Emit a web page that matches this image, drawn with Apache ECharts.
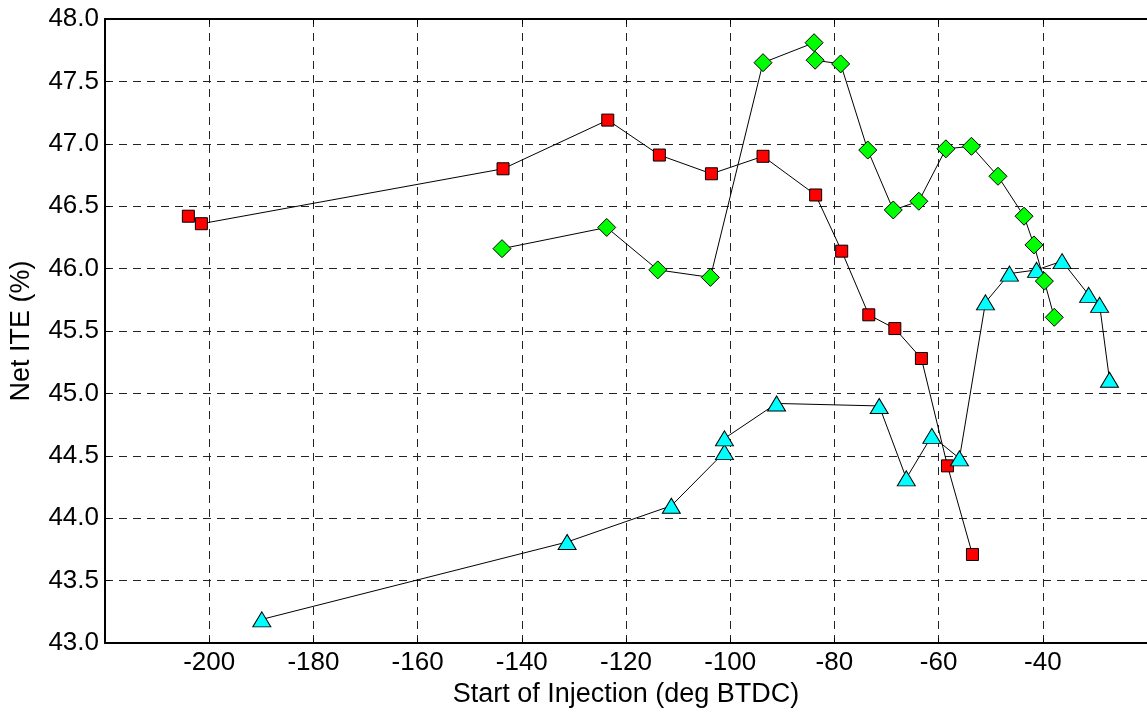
<!DOCTYPE html>
<html>
<head>
<meta charset="utf-8">
<script src="https://cdn.jsdelivr.net/npm/echarts@6/dist/echarts.min.js"></script>
<style>
  html, body { margin: 0; padding: 0; background: #fff; }
  #chart { width: 1147px; height: 713px; }
</style>
</head>
<body>
<div id="chart"></div>
<script>
// 数据：点
let redX = [-204, -201.5, -143.6, -123.5, -113.6, -103.6, -93.7, -83.6, -78.6, -73.4, -68.4, -63.3, -58.3, -53.5];
let redY = [46.42, 46.36, 46.80, 47.19, 46.91, 46.76, 46.90, 46.59, 46.14, 45.63, 45.52, 45.28, 44.42, 43.71];

let greenX = [-143.8, -123.7, -113.9, -103.8, -93.7, -83.9, -83.7, -78.8, -73.6, -68.7, -63.8, -58.6, -53.7, -48.6, -43.6, -41.7, -39.7, -37.8];
let greenY = [46.16, 46.33, 45.99, 45.93, 47.65, 47.81, 47.67, 47.64, 46.95, 46.47, 46.54, 46.96, 46.98, 46.74, 46.42, 46.19, 45.90, 45.61];

let cyanX = [-189.9, -131.3, -111.3, -101.1, -101.1, -91.1, -71.4, -66.2, -61.3, -56.0, -51.0, -46.4, -41.2, -36.3, -31.2, -29.1, -27.2];
let cyanY = [43.19, 43.81, 44.10, 44.53, 44.64, 44.92, 44.90, 44.32, 44.66, 44.48, 45.73, 45.96, 45.99, 46.06, 45.79, 45.71, 45.11];

let xTicks = [-200, -180, -160, -140, -120, -100, -80, -60, -40];

function zip(xs, ys) {
    let out = [];
    for (let i = 0; i < xs.length; i++) {
        out.push([xs[i], ys[i]]);
    }
    return out;
}

let myChart = echarts.init(document.getElementById('chart'), null, {renderer: 'canvas'});

let font = "'Liberation Sans', Arial, sans-serif";
let gridLine = {show: true, lineStyle: {color: '#222', width: 1, type: [8, 6]}};

function makeSeries(name, xs, ys, symbol, size, fill) {
    return {
        name: name,
        type: 'line',
        data: zip(xs, ys),
        symbol: symbol,
        symbolSize: size,
        showAllSymbol: true,
        lineStyle: {color: '#000', width: 1},
        itemStyle: {color: fill, borderColor: '#000', borderWidth: 1},
        emphasis: {disabled: true}
    };
}

option = {
    animation: false,
    backgroundColor: '#fff',
    grid: {
        left: 105,
        top: 19,
        width: 1043,
        height: 626,
        containLabel: false
    },
    xAxis: [
        {
            type: 'value',
            min: -220,
            max: -20,
            interval: 20,
            name: 'Start of Injection (deg BTDC)',
            nameLocation: 'middle',
            nameGap: 36,
            nameTextStyle: {fontFamily: font, fontSize: 27, color: '#000'},
            axisLine: {show: true, onZero: false, lineStyle: {color: '#000', width: 2}},
            axisTick: {show: true, inside: true, length: 5, lineStyle: {color: '#000'}},
            axisLabel: {
                fontFamily: font,
                fontSize: 26,
                color: '#000',
                margin: 7,
                showMinLabel: false,
                showMaxLabel: false,
                formatter: function (v) {
                    return xTicks.indexOf(v) >= 0 ? String(v) : '';
                }
            },
            splitLine: gridLine
        },
        {
            type: 'value',
            position: 'top',
            min: -220,
            max: -20,
            interval: 20,
            axisLine: {show: true, onZero: false, lineStyle: {color: '#000', width: 2}},
            axisTick: {show: true, inside: true, length: 5, lineStyle: {color: '#000'}},
            axisLabel: {show: false},
            splitLine: {show: false}
        }
    ],
    yAxis: [
        {
            type: 'value',
            min: 43,
            max: 48,
            interval: 0.5,
            name: 'Net ITE (%)',
            nameLocation: 'middle',
            nameGap: 70,
            nameTextStyle: {fontFamily: font, fontSize: 27, color: '#000'},
            axisLine: {show: true, onZero: false, lineStyle: {color: '#000', width: 2}},
            axisTick: {show: true, inside: true, length: 5, lineStyle: {color: '#000'}},
            axisLabel: {
                fontFamily: font,
                fontSize: 26,
                color: '#000',
                margin: 6,
                formatter: function (v) {
                    return v.toFixed(1);
                }
            },
            splitLine: gridLine
        }
    ],
    series: [
        makeSeries('red', redX, redY, 'rect', 12, '#ff0000'),
        makeSeries('cyan', cyanX, cyanY, 'triangle', [18, 15], '#00ffff'),
        makeSeries('green', greenX, greenY, 'diamond', 18, '#00ff00')
    ]
};

myChart.setOption(option);
</script>
</body>
</html>
